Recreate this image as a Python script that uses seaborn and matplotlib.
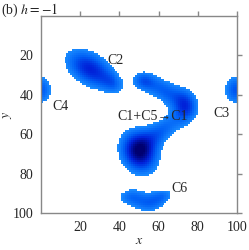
import matplotlib
matplotlib.use('Agg')

import numpy as np
import matplotlib.pyplot as plt
from matplotlib.colors import LinearSegmentedColormap
import seaborn as sns

# Blobs: centre (x, y), widths, tilt (deg), amplitude
blob_x = [25, 37, 99.5, 50, 62, 74, 63, 52, 46, 62, 55]
blob_y = [27, 34.5, 37.5, 69, 58, 46, 38, 33, 92, 91.5, 96]
blob_sx = [10, 4.5, 4.5, 6.5, 9, 4.5, 9, 4, 5.5, 5, 5.5]
blob_sy = [6, 3.5, 5.5, 8, 4.5, 6.5, 4.5, 3.5, 3.5, 3, 3.5]
blob_ang = [32, 30, 0, -25, -35, 0, 28, 10, 0, -10, 0]
blob_amp = [0.8, 0.3, 0.6, 1.0, 0.5, 0.55, 0.55, 0.4, 0.45, 0.42, 0.4]

labels = ["C2", "C4", "C1+C5\u2192C1", "C3", "C6"]
label_x = [38, 10, 57, 92, 70.5]
label_y = [22.5, 46, 51, 49.5, 87.5]

x_ticks = [20, 40, 60, 80, 100]
y_ticks = [20, 40, 60, 80, 100]
threshold = 0.3

sns.set_style("white")
plt.rcParams['font.family'] = ['Liberation Serif', 'DejaVu Serif']
plt.rcParams['mathtext.fontset'] = 'stix'

# build the field on a 100x100 periodic grid
xx, yy = np.meshgrid(np.arange(100) + 0.5, np.arange(100) + 0.5)
field = np.zeros_like(xx)
for cx, cy, sx, sy, ang, amp in zip(blob_x, blob_y, blob_sx, blob_sy, blob_ang, blob_amp):
    dx = (xx - cx + 50) % 100 - 50
    dy = yy - cy
    t = np.deg2rad(ang)
    u = dx * np.cos(t) + dy * np.sin(t)
    v = -dx * np.sin(t) + dy * np.cos(t)
    field += amp * np.exp(-0.5 * ((u / sx) ** 2 + (v / sy) ** 2))

cmap = LinearSegmentedColormap.from_list(
    "blues_c", ["#1a8cff", "#0060f5", "#0020d8", "#000070"])

fig = plt.figure(figsize=(2.49, 2.50), dpi=100)
ax = fig.add_axes([41 / 249, 37 / 250, 196 / 249, 197 / 250])
sns.heatmap(field, mask=field < threshold, cmap=cmap, vmin=threshold, vmax=1.05,
            cbar=False, ax=ax, xticklabels=False, yticklabels=False)

ax.set_xlim(0, 100)
ax.set_ylim(100, 0)
ax.set_xticks(x_ticks)
ax.set_xticklabels([str(v) for v in x_ticks])
ax.set_yticks(y_ticks)
ax.set_yticklabels([str(v) for v in y_ticks], rotation=0)
for s in ax.spines.values():
    s.set_visible(True)
    s.set_color("#888888")
    s.set_linewidth(1.0)
ax.tick_params(direction="out", length=3.5, width=1.0, color="#888888",
               labelsize=10, pad=2, top=True, right=True,
               labeltop=False, labelright=False)

ax.set_xlabel("$x$", fontsize=10, labelpad=0)
ax.set_ylabel("$y$", fontsize=10, rotation=90)
ax.yaxis.set_label_coords(-27 / 196, 0.5)

for txt, lx, ly in zip(labels, label_x, label_y):
    ax.text(lx, ly, txt, fontsize=10, ha="center", va="center")

fig.text(0.005, 0.995, "(b) $h=-1$", fontsize=10, ha="left", va="top")

fig.savefig("out.png", dpi=100)
